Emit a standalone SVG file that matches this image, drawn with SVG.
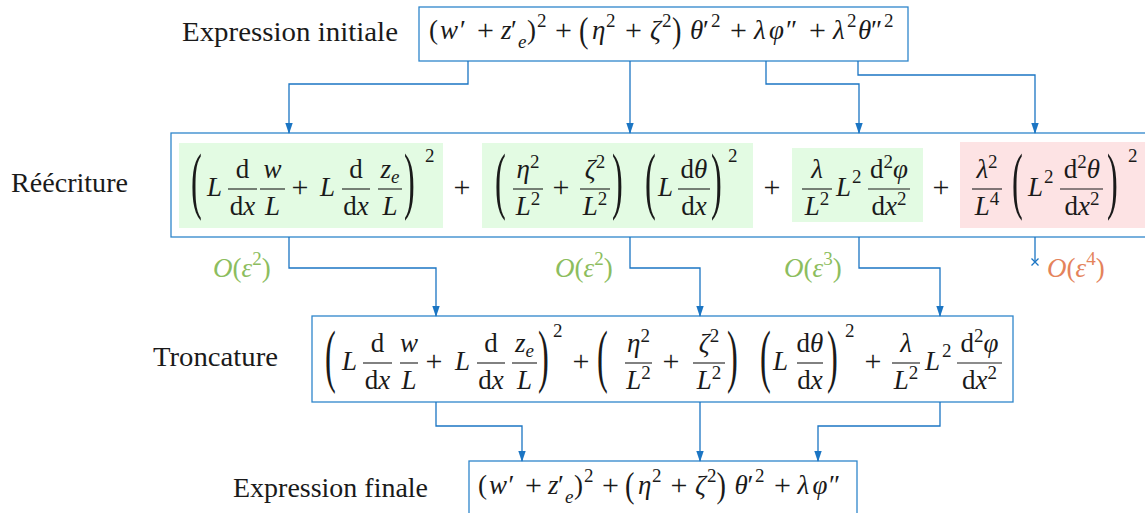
<svg xmlns="http://www.w3.org/2000/svg" width="1145" height="513" viewBox="0 0 1145 513">
<style>
.t{font-family:"Liberation Serif","Times New Roman",serif;font-size:27px;fill:#1a1a1a}
.i{font-style:italic}
.s{font-size:19px}
.c{text-anchor:middle}
.p{font-size:30px}
.box{fill:#fff;stroke:#2e86cb;stroke-width:1.3}
.bar{stroke:#1a1a1a;stroke-width:1.1}
.cn{fill:none;stroke:#1b75c3;stroke-width:1.3}
.g{fill:#8cbd5e}
.o{fill:#e4835b}
.hg{fill:#e3fbe3}
.hr{fill:#fde3e4}
</style>
<defs>
<marker id="arr" markerWidth="11" markerHeight="8" refX="10" refY="4" orient="auto" markerUnits="userSpaceOnUse">
<path d="M0,0.3 L11,4 L0,7.7 Z" fill="#1b75c3"/>
</marker>
</defs>
<rect width="1145" height="513" fill="#fff"/>

<g id="labels">
<text class="t" x="182" y="41" textLength="216" lengthAdjust="spacingAndGlyphs">Expression initiale</text>
<text class="t" x="11" y="192" textLength="117" lengthAdjust="spacingAndGlyphs">Réécriture</text>
<text class="t" x="153" y="366" textLength="125" lengthAdjust="spacingAndGlyphs">Troncature</text>
<text class="t" x="233" y="497" textLength="195" lengthAdjust="spacingAndGlyphs">Expression finale</text>
</g>

<g id="node-initiale">
<rect class="box" x="419" y="7" width="489" height="54"/>
<text class="t" y="39"><tspan x="429">(</tspan><tspan class="i" x="440">w</tspan><tspan x="460">′</tspan><tspan class="p" x="477" y="40">+</tspan><tspan class="i" x="501" y="39">z</tspan><tspan x="511">′</tspan><tspan class="i s" x="518" y="48">e</tspan><tspan x="527" y="39">)</tspan><tspan class="s" x="537" y="27">2</tspan><tspan class="p" x="555" y="40">+</tspan></text>
<text class="t" transform="translate(579,42.2) scale(1.05,1.3)">(</text>
<text class="t" y="39"><tspan class="i" x="592">η</tspan><tspan class="s" x="606" y="27">2</tspan><tspan class="p" x="625" y="40">+</tspan><tspan class="i" x="650" y="39">ζ</tspan><tspan class="s" x="662" y="27">2</tspan></text>
<text class="t" transform="translate(672,42.2) scale(1.05,1.3)">)</text>
<text class="t" y="39"><tspan class="i" x="690">θ</tspan><tspan x="703">′</tspan><tspan class="s" x="711" y="27">2</tspan><tspan class="p" x="730" y="40">+</tspan><tspan class="i" x="754" y="39">λ</tspan><tspan class="i" x="769">φ</tspan><tspan x="786">″</tspan><tspan class="p" x="809" y="40">+</tspan><tspan class="i" x="833" y="39">λ</tspan><tspan class="s" x="847" y="27">2</tspan><tspan class="i" x="858" y="39">θ</tspan><tspan x="871">″</tspan><tspan class="s" x="884" y="27">2</tspan></text>
</g>

<g id="node-reecriture">
<rect class="box" x="171" y="133" width="990" height="104"/>
<rect class="hg" x="179" y="143" width="264" height="85"/>
<rect class="hg" x="482" y="143" width="271" height="85"/>
<rect class="hg" x="792" y="148" width="131" height="74"/>
<rect class="hr" x="960" y="142" width="190" height="86"/>
<text class="t" transform="translate(191,204.7) scale(1.2,2.72)">(</text>
<text class="t i" x="207" y="196">L</text>
<line class="bar" x1="228" y1="189" x2="257" y2="189"/>
<text class="t c" x="242.5" y="178">d</text>
<text class="t c" x="242.5" y="214.5">d<tspan class="i">x</tspan></text>
<line class="bar" x1="260" y1="189" x2="285" y2="189"/>
<text class="t c i" x="272.5" y="178">w</text>
<text class="t c i" x="272.5" y="214.5">L</text>
<text class="t c p" x="300" y="197">+</text>
<text class="t i" x="320" y="196">L</text>
<line class="bar" x1="342" y1="189" x2="370" y2="189"/>
<text class="t c" x="356" y="178">d</text>
<text class="t c" x="356" y="214.5">d<tspan class="i">x</tspan></text>
<line class="bar" x1="378" y1="189" x2="402" y2="189"/>
<text class="t c" x="390" y="178"><tspan class="i">z</tspan><tspan class="i s" dy="5">e</tspan></text>
<text class="t c i" x="390" y="214.5">L</text>
<text class="t" transform="translate(404,204.7) scale(1.2,2.72)">)</text>
<text class="t s" x="425" y="162">2</text>
<text class="t c p" x="462" y="197">+</text>
<text class="t" transform="translate(495,204.7) scale(1.2,2.72)">(</text>
<line class="bar" x1="513" y1="189" x2="543" y2="189"/>
<text class="t c" x="528" y="178"><tspan class="i">η</tspan><tspan class="s" dy="-10">2</tspan></text>
<text class="t c" x="528" y="214.5"><tspan class="i">L</tspan><tspan class="s" dy="-10">2</tspan></text>
<text class="t c p" x="561" y="197">+</text>
<line class="bar" x1="580" y1="189" x2="610" y2="189"/>
<text class="t c" x="595" y="178"><tspan class="i">ζ</tspan><tspan class="s" dy="-10">2</tspan></text>
<text class="t c" x="595" y="214.5"><tspan class="i">L</tspan><tspan class="s" dy="-10">2</tspan></text>
<text class="t" transform="translate(612,204.7) scale(1.2,2.72)">)</text>
<text class="t" transform="translate(645,204.7) scale(1.2,2.72)">(</text>
<text class="t i" x="658" y="196">L</text>
<line class="bar" x1="678" y1="189" x2="710" y2="189"/>
<text class="t c" x="694" y="178">d<tspan class="i">θ</tspan></text>
<text class="t c" x="694" y="214.5">d<tspan class="i">x</tspan></text>
<text class="t" transform="translate(711,204.7) scale(1.2,2.72)">)</text>
<text class="t s" x="728" y="162">2</text>
<text class="t c p" x="772" y="197">+</text>
<line class="bar" x1="802" y1="189" x2="832" y2="189"/>
<text class="t c i" x="817" y="178">λ</text>
<text class="t c" x="817" y="214.5"><tspan class="i">L</tspan><tspan class="s" dy="-10">2</tspan></text>
<text class="t" x="836" y="196"><tspan class="i">L</tspan><tspan class="s" x="852" y="183">2</tspan></text>
<line class="bar" x1="868" y1="189" x2="910" y2="189"/>
<text class="t c" x="889" y="178">d<tspan class="s" dy="-10">2</tspan><tspan class="i" dy="10">φ</tspan></text>
<text class="t c" x="889" y="214.5">d<tspan class="i">x</tspan><tspan class="s" dy="-10">2</tspan></text>
<text class="t c p" x="941" y="197">+</text>
<line class="bar" x1="972" y1="189" x2="1002" y2="189"/>
<text class="t c" x="987" y="178"><tspan class="i">λ</tspan><tspan class="s" dy="-10">2</tspan></text>
<text class="t c" x="987" y="214.5"><tspan class="i">L</tspan><tspan class="s" dy="-10">4</tspan></text>
<text class="t" transform="translate(1012,204.7) scale(1.2,2.72)">(</text>
<text class="t" x="1028" y="196"><tspan class="i">L</tspan><tspan class="s" x="1044" y="183">2</tspan></text>
<line class="bar" x1="1060" y1="189" x2="1103" y2="189"/>
<text class="t c" x="1082" y="178">d<tspan class="s" dy="-10">2</tspan><tspan class="i" dy="10">θ</tspan></text>
<text class="t c" x="1082" y="214.5">d<tspan class="i">x</tspan><tspan class="s" dy="-10">2</tspan></text>
<text class="t" transform="translate(1107,204.7) scale(1.2,2.72)">)</text>
<text class="t s" x="1128" y="162">2</text>
</g>

<g id="node-troncature">
<rect class="box" x="312" y="316" width="701" height="86"/>
<text class="t" transform="translate(325,378.7) scale(1.2,2.6)">(</text>
<text class="t i" x="342" y="370">L</text>
<line class="bar" x1="363" y1="363" x2="392" y2="363"/>
<text class="t c" x="377.5" y="352">d</text>
<text class="t c" x="377.5" y="388.5">d<tspan class="i">x</tspan></text>
<line class="bar" x1="400" y1="363" x2="418" y2="363"/>
<text class="t c i" x="409" y="352">w</text>
<text class="t c i" x="409" y="388.5">L</text>
<text class="t c p" x="434" y="371">+</text>
<text class="t i" x="455" y="370">L</text>
<line class="bar" x1="477" y1="363" x2="505" y2="363"/>
<text class="t c" x="491" y="352">d</text>
<text class="t c" x="491" y="388.5">d<tspan class="i">x</tspan></text>
<line class="bar" x1="512" y1="363" x2="537" y2="363"/>
<text class="t c" x="524.5" y="352"><tspan class="i">z</tspan><tspan class="i s" dy="5">e</tspan></text>
<text class="t c i" x="524.5" y="388.5">L</text>
<text class="t" transform="translate(538,378.7) scale(1.2,2.6)">)</text>
<text class="t s" x="553" y="337">2</text>
<text class="t c p" x="581" y="371">+</text>
<text class="t" transform="translate(597,378.7) scale(1.2,2.6)">(</text>
<line class="bar" x1="625" y1="363" x2="652" y2="363"/>
<text class="t c" x="638.5" y="352"><tspan class="i">η</tspan><tspan class="s" dy="-10">2</tspan></text>
<text class="t c" x="638.5" y="388.5"><tspan class="i">L</tspan><tspan class="s" dy="-10">2</tspan></text>
<text class="t c p" x="671" y="371">+</text>
<line class="bar" x1="693" y1="363" x2="725" y2="363"/>
<text class="t c" x="709" y="352"><tspan class="i">ζ</tspan><tspan class="s" dy="-10">2</tspan></text>
<text class="t c" x="709" y="388.5"><tspan class="i">L</tspan><tspan class="s" dy="-10">2</tspan></text>
<text class="t" transform="translate(727,378.7) scale(1.2,2.6)">)</text>
<text class="t" transform="translate(760,378.7) scale(1.2,2.6)">(</text>
<text class="t i" x="773" y="370">L</text>
<line class="bar" x1="797" y1="363" x2="823" y2="363"/>
<text class="t c" x="810" y="352">d<tspan class="i">θ</tspan></text>
<text class="t c" x="810" y="388.5">d<tspan class="i">x</tspan></text>
<text class="t" transform="translate(827,378.7) scale(1.2,2.6)">)</text>
<text class="t s" x="845" y="337">2</text>
<text class="t c p" x="873" y="371">+</text>
<line class="bar" x1="892" y1="363" x2="920" y2="363"/>
<text class="t c i" x="906" y="352">λ</text>
<text class="t c" x="906" y="388.5"><tspan class="i">L</tspan><tspan class="s" dy="-10">2</tspan></text>
<text class="t" x="925" y="370"><tspan class="i">L</tspan><tspan class="s" x="942" y="357">2</tspan></text>
<line class="bar" x1="957" y1="363" x2="1002" y2="363"/>
<text class="t c" x="979.5" y="352">d<tspan class="s" dy="-10">2</tspan><tspan class="i" dy="10">φ</tspan></text>
<text class="t c" x="979.5" y="388.5">d<tspan class="i">x</tspan><tspan class="s" dy="-10">2</tspan></text>
</g>

<g id="node-finale">
<rect class="box" x="469" y="461" width="388" height="70"/>
<text class="t" y="494"><tspan x="478">(</tspan><tspan class="i" x="489">w</tspan><tspan x="508.5">′</tspan><tspan class="p" x="525" y="495">+</tspan><tspan class="i" x="548" y="494">z</tspan><tspan x="558">′</tspan><tspan class="i s" x="565" y="503">e</tspan><tspan x="574" y="494">)</tspan><tspan class="s" x="584" y="482">2</tspan><tspan class="p" x="602" y="495">+</tspan></text>
<text class="t" transform="translate(625,497.2) scale(1.05,1.3)">(</text>
<text class="t" y="494"><tspan class="i" x="638">η</tspan><tspan class="s" x="652" y="482">2</tspan><tspan class="p" x="670.5" y="495">+</tspan><tspan class="i" x="695" y="494">ζ</tspan><tspan class="s" x="707" y="482">2</tspan></text>
<text class="t" transform="translate(716.5,497.2) scale(1.05,1.3)">)</text>
<text class="t" y="494"><tspan class="i" x="734.5">θ</tspan><tspan x="747.5">′</tspan><tspan class="s" x="755" y="482">2</tspan><tspan class="p" x="774" y="495">+</tspan><tspan class="i" x="797.5" y="494">λ</tspan><tspan class="i" x="812.5">φ</tspan><tspan x="829">″</tspan></text>
</g>

<g id="connectors">
<path class="cn" d="M468,61 V84 H289 V133" marker-end="url(#arr)"/>
<path class="cn" d="M630,61 V133" marker-end="url(#arr)"/>
<path class="cn" d="M766,61 V84 H859 V133" marker-end="url(#arr)"/>
<path class="cn" d="M858,61 V75 H1035 V133" marker-end="url(#arr)"/>
<path class="cn" d="M289,237 V268 H436 V316" marker-end="url(#arr)"/>
<path class="cn" d="M630,237 V268 H700 V316" marker-end="url(#arr)"/>
<path class="cn" d="M859,237 V268 H940 V316" marker-end="url(#arr)"/>
<path class="cn" d="M1035,237 V262"/>
<path class="cn" d="M1031.5,258.5 L1038.5,265.5 M1038.5,258.5 L1031.5,265.5"/>
<path class="cn" d="M436,402 V426 H522 V461" marker-end="url(#arr)"/>
<path class="cn" d="M700,402 V461" marker-end="url(#arr)"/>
<path class="cn" d="M940,402 V426 H818 V461" marker-end="url(#arr)"/>
</g>

<g id="orders">
<text class="t g" x="213" y="277"><tspan class="i">O</tspan>(<tspan class="i">ε</tspan><tspan class="s" dy="-12">2</tspan><tspan dy="12">)</tspan></text>
<text class="t g" x="555" y="277"><tspan class="i">O</tspan>(<tspan class="i">ε</tspan><tspan class="s" dy="-12">2</tspan><tspan dy="12">)</tspan></text>
<text class="t g" x="784" y="277"><tspan class="i">O</tspan>(<tspan class="i">ε</tspan><tspan class="s" dy="-12">3</tspan><tspan dy="12">)</tspan></text>
<text class="t o" x="1047" y="277"><tspan class="i">O</tspan>(<tspan class="i">ε</tspan><tspan class="s" dy="-12">4</tspan><tspan dy="12">)</tspan></text>
</g>
</svg>
